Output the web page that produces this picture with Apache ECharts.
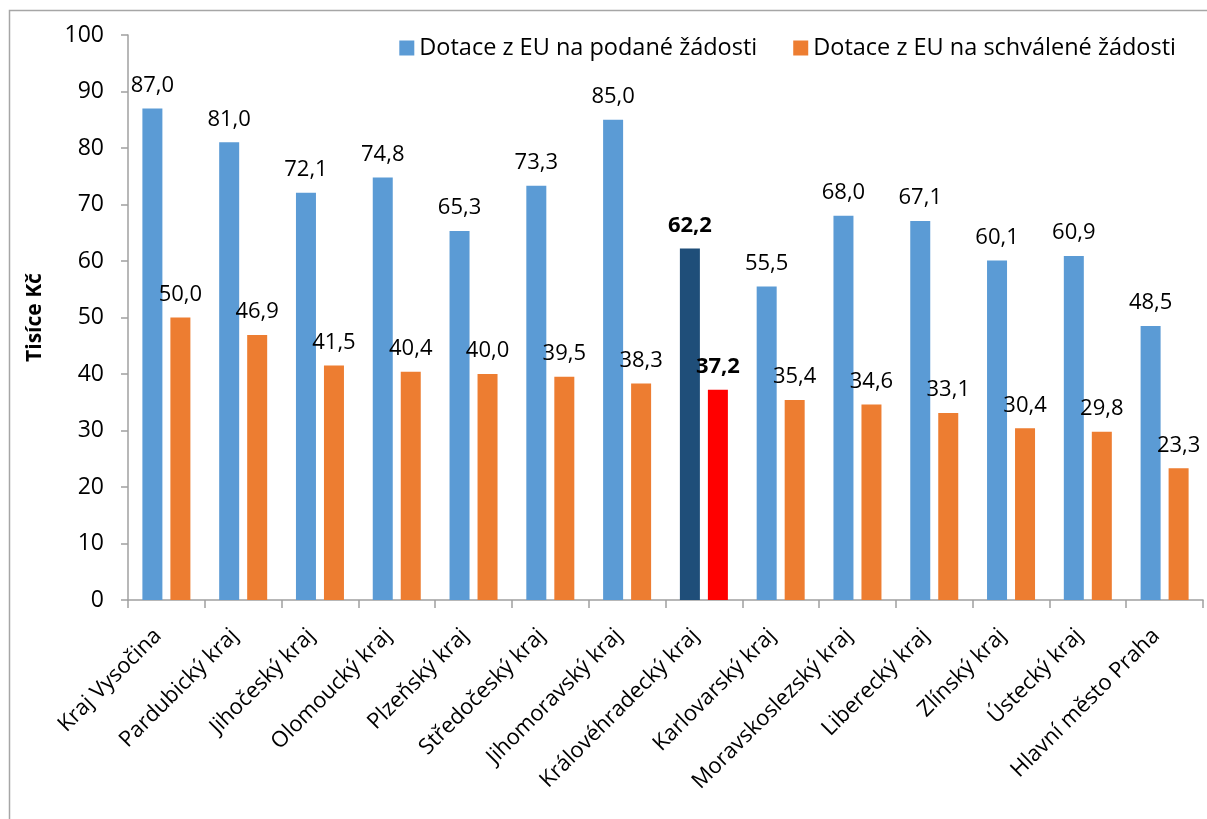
<!DOCTYPE html>
<html>
<head>
<meta charset="utf-8">
<script src="https://cdn.jsdelivr.net/npm/echarts@6/dist/echarts.min.js"></script>
<style>
html,body{margin:0;padding:0;background:#fff;}
#chart{width:1207px;height:819px;}
</style>
</head>
<body>
<div id="chart"></div>
<script>
const categories = ['Kraj Vysočina','Pardubický kraj','Jihočeský kraj','Olomoucký kraj','Plzeňský kraj','Středočeský kraj','Jihomoravský kraj','Královéhradecký kraj','Karlovarský kraj','Moravskoslezský kraj','Liberecký kraj','Zlínský kraj','Ústecký kraj','Hlavní město Praha'];
const submitted = [87.0, 81.0, 72.1, 74.8, 65.3, 73.3, 85.0, 62.2, 55.5, 68.0, 67.1, 60.1, 60.9, 48.5];
const approved = [50.0, 46.9, 41.5, 40.4, 40.0, 39.5, 38.3, 37.2, 35.4, 34.6, 33.1, 30.4, 29.8, 23.3];
const seriesNames = ['Dotace z EU na podané žádosti', 'Dotace z EU na schválené žádosti'];
const highlightCategory = 'Královéhradecký kraj';
const yTicks = [0, 10, 20, 30, 40, 50, 60, 70, 80, 90, 100];

const FONT = '"Open Sans", "Noto Sans", sans-serif';
const fmt = v => v.toFixed(1).replace('.', ',');

function build(values, hiColor) {
  return values.map((v, i) => {
    const item = { value: v };
    if (categories[i] === highlightCategory) {
      item.itemStyle = { color: hiColor };
      item.label = { fontWeight: 'bold' };
    }
    return item;
  });
}

const chart = echarts.init(document.getElementById('chart'), null, { renderer: 'canvas' });
const labelCfg = {
  show: true, position: 'top', distance: 12,
  color: '#000', fontSize: 22, fontFamily: FONT,
  formatter: p => fmt(p.value)
};
chart.setOption({
  animation: false,
  backgroundColor: '#fff',
  graphic: [{
    type: 'rect', silent: true, z: -1,
    shape: { x: 9.5, y: 10.5, width: 1300, height: 900 },
    style: { fill: 'none', stroke: '#A6A6A6', lineWidth: 1.5 }
  }],
  grid: { left: 128, right: 4, top: 35, bottom: 219, containLabel: false },
  legend: {
    right: 26, top: 31,
    itemWidth: 15, itemHeight: 15, itemGap: 36,
    icon: 'rect',
    textStyle: { fontSize: 23.5, fontFamily: FONT, color: '#000' },
    data: seriesNames
  },
  xAxis: {
    type: 'category',
    data: categories,
    axisLine: { lineStyle: { color: '#A0A0A0', width: 1.5 } },
    axisTick: { show: true, interval: 0, length: 8, lineStyle: { color: '#A0A0A0', width: 1.5 } },
    axisLabel: { interval: 0, rotate: 45, margin: 24, padding: [0, 12, 0, 0],
      fontSize: 22, fontFamily: FONT, color: '#000' }
  },
  yAxis: {
    type: 'value', min: 0, max: 100, interval: 10,
    name: 'Tisíce Kč', nameLocation: 'middle', nameRotate: 90, nameGap: 82,
    nameTextStyle: { fontSize: 21, fontWeight: 'bold', fontFamily: FONT, color: '#000' },
    axisLine: { show: true, lineStyle: { color: '#A0A0A0', width: 1.5 } },
    axisTick: { show: true, length: 7, lineStyle: { color: '#A0A0A0', width: 1.5 } },
    splitLine: { show: false },
    axisLabel: { fontSize: 23, fontFamily: FONT, color: '#000', margin: 24,
      formatter: v => (yTicks.includes(v) ? String(v) : '') }
  },
  series: [
    {
      name: seriesNames[0], type: 'bar', barWidth: 20, barGap: '40%',
      itemStyle: { color: '#5B9BD5' },
      label: labelCfg,
      data: build(submitted, '#1F4E79')
    },
    {
      name: seriesNames[1], type: 'bar', barWidth: 20, barGap: '40%',
      itemStyle: { color: '#ED7D31' },
      label: labelCfg,
      data: build(approved, '#FF0000')
    }
  ]
});
</script>
</body>
</html>
